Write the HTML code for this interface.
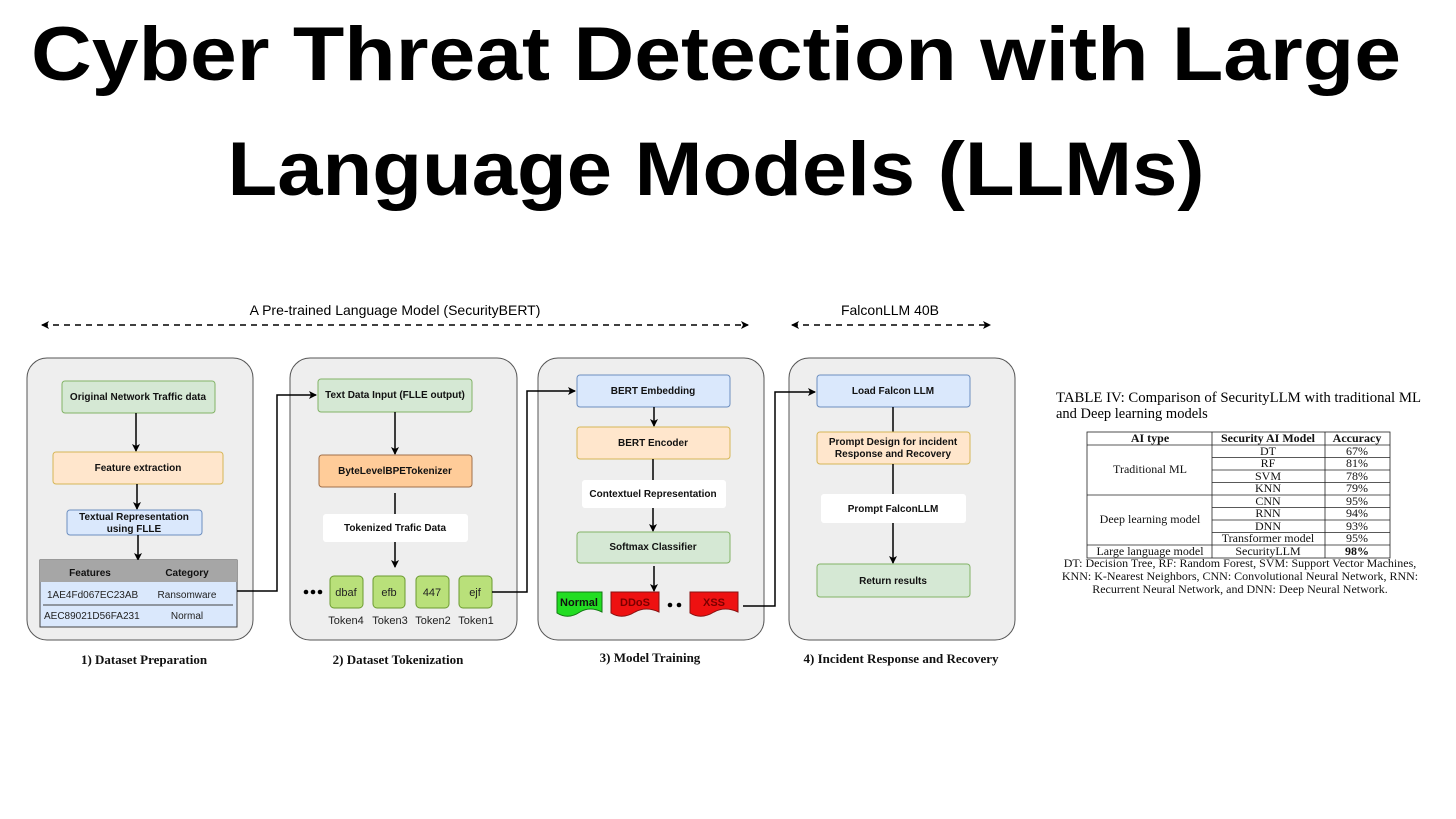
<!DOCTYPE html>
<html><head><meta charset="utf-8"><style>
html,body{margin:0;padding:0;background:#fff;}
svg{display:block;}
.s{font-family:"Liberation Sans",sans-serif;font-weight:bold;font-size:10px;fill:#111;}
.n{font-family:"Liberation Sans",sans-serif;font-size:10px;fill:#222;}
.cap{font-family:"Liberation Serif",serif;font-weight:bold;font-size:13px;fill:#111;}
.t{font-family:"Liberation Serif",serif;font-size:12px;fill:#111;}
</style></head><body>
<svg width="1456" height="819" viewBox="0 0 1456 819" xmlns="http://www.w3.org/2000/svg">
<defs>
<marker id="a" markerWidth="8" markerHeight="8" refX="7" refY="4" orient="auto" markerUnits="userSpaceOnUse"><path d="M0,0 L8,4 L0,8 L2,4 z" fill="#000"/></marker>
<marker id="b" markerWidth="8" markerHeight="8" refX="1" refY="4" orient="auto" markerUnits="userSpaceOnUse"><path d="M8,0 L0,4 L8,8 L6,4 z" fill="#000"/></marker>
</defs>
<text x="716" y="80" text-anchor="middle" textLength="1370" lengthAdjust="spacingAndGlyphs" font-family="Liberation Sans, sans-serif" font-weight="bold" font-size="76">Cyber Threat Detection with Large</text>
<text x="716" y="195" text-anchor="middle" textLength="977" lengthAdjust="spacingAndGlyphs" font-family="Liberation Sans, sans-serif" font-weight="bold" font-size="76">Language Models (LLMs)</text>

<line x1="42" y1="325" x2="748" y2="325" stroke="#000" stroke-width="1.6" stroke-dasharray="6,5" marker-start="url(#b)" marker-end="url(#a)"/>
<text x="395" y="315" text-anchor="middle" font-family="Liberation Sans, sans-serif" font-size="14">A Pre-trained Language Model (SecurityBERT)</text>
<line x1="792" y1="325" x2="990" y2="325" stroke="#000" stroke-width="1.6" stroke-dasharray="6,5" marker-start="url(#b)" marker-end="url(#a)"/>
<text x="890" y="315" text-anchor="middle" font-family="Liberation Sans, sans-serif" font-size="14">FalconLLM 40B</text>

<g fill="#eeeeee" stroke="#555" stroke-width="1">
<rect x="27" y="358" width="226" height="282" rx="20"/>
<rect x="290" y="358" width="227" height="282" rx="20"/>
<rect x="538" y="358" width="226" height="282" rx="20"/>
<rect x="789" y="358" width="226" height="282" rx="20"/>
</g>

<rect x="62" y="381" width="153" height="32" rx="3" fill="#d5e8d4" stroke="#82b366"/>
<text class="s" x="138" y="400" text-anchor="middle">Original Network Traffic  data</text>
<line x1="136" y1="413" x2="136" y2="451" stroke="#000" stroke-width="1.5" marker-end="url(#a)"/>
<rect x="53" y="452" width="170" height="32" rx="3" fill="#ffe6cc" stroke="#d6b656"/>
<text class="s" x="138" y="471" text-anchor="middle">Feature extraction</text>
<line x1="137" y1="484" x2="137" y2="509" stroke="#000" stroke-width="1.5" marker-end="url(#a)"/>
<rect x="67" y="510" width="135" height="25" rx="3" fill="#dae8fc" stroke="#6c8ebf"/>
<text class="s" x="134" y="520" text-anchor="middle">Textual Representation</text>
<text class="s" x="134" y="532" text-anchor="middle">using FLLE</text>
<line x1="138" y1="535" x2="138" y2="560" stroke="#000" stroke-width="1.5" marker-end="url(#a)"/>
<rect x="40" y="560" width="197" height="67" fill="#dae8fc" stroke="#444"/>
<rect x="40" y="560" width="197" height="22" fill="#a6a6a6"/>
<text class="s" x="90" y="576" text-anchor="middle">Features</text>
<text class="s" x="187" y="576" text-anchor="middle">Category</text>
<text class="n" x="47" y="598">1AE4Fd067EC23AB</text>
<text class="n" x="187" y="598" text-anchor="middle">Ransomware</text>
<line x1="43" y1="605" x2="233" y2="605" stroke="#444" stroke-width="1"/>
<text class="n" x="44" y="619">AEC89021D56FA231</text>
<text class="n" x="187" y="619" text-anchor="middle">Normal</text>
<polyline points="237,591 277,591 277,395 316,395" fill="none" stroke="#000" stroke-width="1.5" marker-end="url(#a)"/>

<rect x="318" y="379" width="154" height="33" rx="3" fill="#d5e8d4" stroke="#82b366"/>
<text class="s" x="395" y="398" text-anchor="middle">Text Data Input (FLLE output)</text>
<line x1="395" y1="412" x2="395" y2="454" stroke="#000" stroke-width="1.5" marker-end="url(#a)"/>
<rect x="319" y="455" width="153" height="32" rx="3" fill="#ffcc99" stroke="#a0704a"/>
<text class="s" x="395" y="474" text-anchor="middle">ByteLevelBPETokenizer</text>
<line x1="395" y1="493" x2="395" y2="514" stroke="#000" stroke-width="1.5"/>
<rect x="323" y="514" width="145" height="28" rx="3" fill="#fff"/>
<text class="s" x="395" y="531" text-anchor="middle">Tokenized Trafic Data</text>
<line x1="395" y1="542" x2="395" y2="567" stroke="#000" stroke-width="1.5" marker-end="url(#a)"/>
<g fill="#000"><circle cx="306" cy="592" r="2.3"/><circle cx="313" cy="592" r="2.3"/><circle cx="320" cy="592" r="2.3"/></g>
<g fill="#b9e07a" stroke="#6a9a30">
<rect x="330" y="576" width="33" height="32" rx="4"/>
<rect x="373" y="576" width="32" height="32" rx="4"/>
<rect x="416" y="576" width="33" height="32" rx="4"/>
<rect x="459" y="576" width="33" height="32" rx="4"/>
</g>
<text class="n" x="346" y="596" text-anchor="middle" style="font-size:11px">dbaf</text>
<text class="n" x="389" y="596" text-anchor="middle" style="font-size:11px">efb</text>
<text class="n" x="432" y="596" text-anchor="middle" style="font-size:11px">447</text>
<text class="n" x="475" y="596" text-anchor="middle" style="font-size:11px">ejf</text>
<text class="n" x="346" y="624" text-anchor="middle" style="font-size:11px">Token4</text>
<text class="n" x="390" y="624" text-anchor="middle" style="font-size:11px">Token3</text>
<text class="n" x="433" y="624" text-anchor="middle" style="font-size:11px">Token2</text>
<text class="n" x="476" y="624" text-anchor="middle" style="font-size:11px">Token1</text>
<polyline points="492,592 527,592 527,391 575,391" fill="none" stroke="#000" stroke-width="1.5" marker-end="url(#a)"/>

<rect x="577" y="375" width="153" height="32" rx="3" fill="#dae8fc" stroke="#6c8ebf"/>
<text class="s" x="653" y="394" text-anchor="middle">BERT Embedding</text>
<line x1="654" y1="407" x2="654" y2="426" stroke="#000" stroke-width="1.5" marker-end="url(#a)"/>
<rect x="577" y="427" width="153" height="32" rx="3" fill="#ffe6cc" stroke="#d6b656"/>
<text class="s" x="653" y="446" text-anchor="middle">BERT Encoder</text>
<line x1="653" y1="459" x2="653" y2="480" stroke="#000" stroke-width="1.5"/>
<rect x="582" y="480" width="144" height="28" rx="3" fill="#fff"/>
<text class="s" x="653" y="497" text-anchor="middle">Contextuel Representation</text>
<line x1="653" y1="508" x2="653" y2="531" stroke="#000" stroke-width="1.5" marker-end="url(#a)"/>
<rect x="577" y="532" width="153" height="31" rx="3" fill="#d5e8d4" stroke="#82b366"/>
<text class="s" x="653" y="550" text-anchor="middle">Softmax Classifier</text>
<line x1="654" y1="566" x2="654" y2="591" stroke="#000" stroke-width="1.5" marker-end="url(#a)"/>
<path d="M557,592 H602 V612 Q590,606 580,612 Q568,620 557,613 Z" fill="#22dd22" stroke="#117711"/>
<text class="s" x="579" y="606" text-anchor="middle" style="font-size:11px">Normal</text>
<path d="M611,592 H659 V612 Q646,606 635,612 Q622,620 611,613 Z" fill="#ee1111" stroke="#881111"/>
<text class="s" x="635" y="606" text-anchor="middle" style="fill:#7a0000;font-size:11px">DDoS</text>
<g fill="#000"><circle cx="670" cy="605" r="2.3"/><circle cx="679" cy="605" r="2.3"/></g>
<path d="M690,592 H738 V612 Q725,606 714,612 Q701,620 690,613 Z" fill="#ee1111" stroke="#881111"/>
<text class="s" x="714" y="606" text-anchor="middle" style="fill:#7a0000;font-size:11px">XSS</text>
<polyline points="743,606 775,606 775,392 815,392" fill="none" stroke="#000" stroke-width="1.5" marker-end="url(#a)"/>

<rect x="817" y="375" width="153" height="32" rx="3" fill="#dae8fc" stroke="#6c8ebf"/>
<text class="s" x="893" y="394" text-anchor="middle">Load Falcon LLM</text>
<line x1="893" y1="407" x2="893" y2="432" stroke="#000" stroke-width="1.5"/>
<rect x="817" y="432" width="153" height="32" rx="3" fill="#ffe6cc" stroke="#d6b656"/>
<text class="s" x="893" y="445" text-anchor="middle">Prompt Design  for incident</text>
<text class="s" x="893" y="457" text-anchor="middle">Response and Recovery</text>
<line x1="893" y1="464" x2="893" y2="494" stroke="#000" stroke-width="1.5"/>
<rect x="821" y="494" width="145" height="29" rx="3" fill="#fff"/>
<text class="s" x="893" y="512" text-anchor="middle">Prompt FalconLLM</text>
<line x1="893" y1="523" x2="893" y2="563" stroke="#000" stroke-width="1.5" marker-end="url(#a)"/>
<rect x="817" y="564" width="153" height="33" rx="3" fill="#d5e8d4" stroke="#82b366"/>
<text class="s" x="893" y="584" text-anchor="middle">Return results</text>

<text class="cap" x="144" y="664" text-anchor="middle">1) Dataset Preparation</text>
<text class="cap" x="398" y="664" text-anchor="middle">2) Dataset Tokenization</text>
<text class="cap" x="650" y="662" text-anchor="middle">3) Model Training</text>
<text class="cap" x="901" y="663" text-anchor="middle">4) Incident Response and Recovery</text>

<text x="1056" y="402" textLength="365" lengthAdjust="spacingAndGlyphs" font-family="Liberation Serif, serif" font-size="14.5">TABLE IV: Comparison of SecurityLLM with traditional ML</text>
<text x="1056" y="418" font-family="Liberation Serif, serif" font-size="14.5">and Deep learning models</text>
<g stroke="#222" stroke-width="0.8" fill="none">
<rect x="1087" y="432" width="303" height="126"/>
<line x1="1212" y1="432" x2="1212" y2="558"/>
<line x1="1325" y1="432" x2="1325" y2="558"/>
<line x1="1087" y1="445" x2="1390" y2="445"/>
<line x1="1212" y1="457.5" x2="1390" y2="457.5"/>
<line x1="1212" y1="470" x2="1390" y2="470"/>
<line x1="1212" y1="482.5" x2="1390" y2="482.5"/>
<line x1="1087" y1="495" x2="1390" y2="495"/>
<line x1="1212" y1="507.5" x2="1390" y2="507.5"/>
<line x1="1212" y1="520" x2="1390" y2="520"/>
<line x1="1212" y1="532.5" x2="1390" y2="532.5"/>
<line x1="1087" y1="545" x2="1390" y2="545"/>
</g>
<text class="t" x="1150" y="442" text-anchor="middle" font-weight="bold">AI type</text>
<text class="t" x="1268" y="442" text-anchor="middle" font-weight="bold">Security AI Model</text>
<text class="t" x="1357" y="442" text-anchor="middle" font-weight="bold">Accuracy</text>
<text class="t" x="1150" y="473" text-anchor="middle">Traditional ML</text>
<text class="t" x="1150" y="523" text-anchor="middle">Deep learning model</text>
<text class="t" x="1150" y="555" text-anchor="middle">Large language model</text>
<text class="t" x="1268" y="455" text-anchor="middle">DT</text><text class="t" x="1357" y="455" text-anchor="middle">67%</text>
<text class="t" x="1268" y="467" text-anchor="middle">RF</text><text class="t" x="1357" y="467" text-anchor="middle">81%</text>
<text class="t" x="1268" y="480" text-anchor="middle">SVM</text><text class="t" x="1357" y="480" text-anchor="middle">78%</text>
<text class="t" x="1268" y="492" text-anchor="middle">KNN</text><text class="t" x="1357" y="492" text-anchor="middle">79%</text>
<text class="t" x="1268" y="505" text-anchor="middle">CNN</text><text class="t" x="1357" y="505" text-anchor="middle">95%</text>
<text class="t" x="1268" y="517" text-anchor="middle">RNN</text><text class="t" x="1357" y="517" text-anchor="middle">94%</text>
<text class="t" x="1268" y="530" text-anchor="middle">DNN</text><text class="t" x="1357" y="530" text-anchor="middle">93%</text>
<text class="t" x="1268" y="542" text-anchor="middle">Transformer model</text><text class="t" x="1357" y="542" text-anchor="middle">95%</text>
<text class="t" x="1268" y="555" text-anchor="middle">SecurityLLM</text><text class="t" x="1357" y="555" text-anchor="middle" font-weight="bold">98%</text>
<text class="t" x="1240" y="567" text-anchor="middle">DT: Decision Tree, RF: Random Forest, SVM: Support Vector Machines,</text>
<text class="t" x="1240" y="580" text-anchor="middle">KNN: K-Nearest Neighbors, CNN: Convolutional Neural Network, RNN:</text>
<text class="t" x="1240" y="593" text-anchor="middle">Recurrent Neural Network, and DNN: Deep Neural Network.</text>
</svg>
</body></html>
